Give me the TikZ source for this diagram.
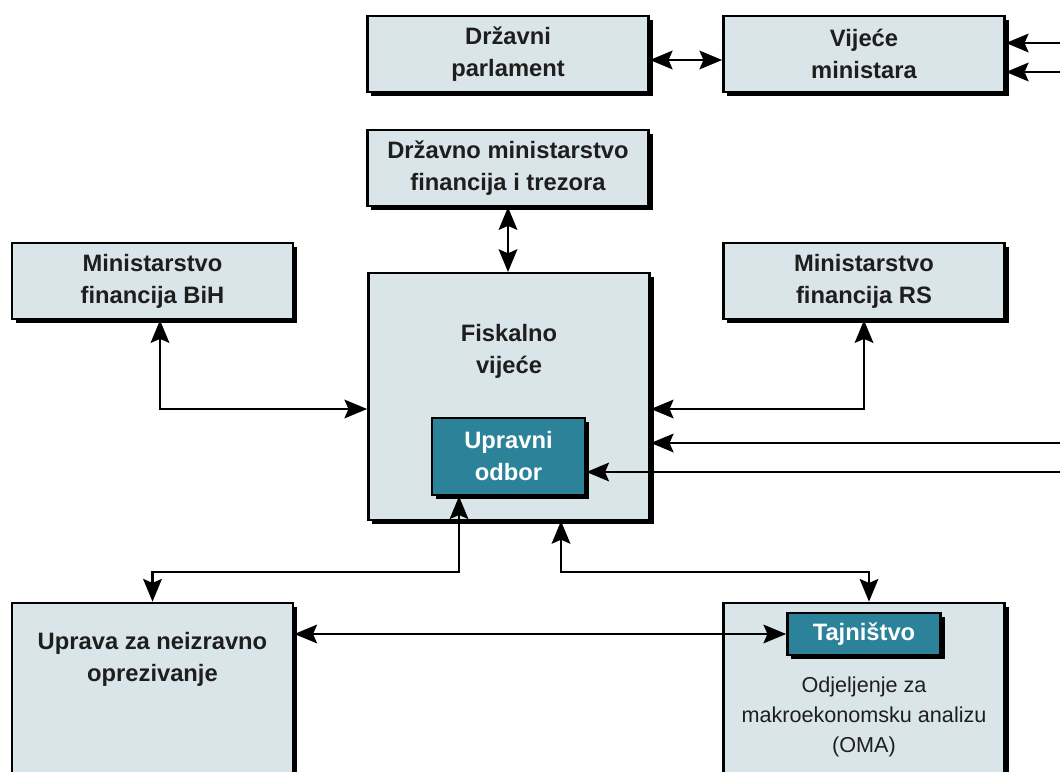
\documentclass[tikz,border=0pt]{standalone}
\usepackage{fontspec}
\setmainfont{Liberation Sans}
\usetikzlibrary{positioning, arrows.meta, calc, shadows}

\definecolor{panel}{HTML}{DAE5E9}
\definecolor{boardteal}{HTML}{2B8299}
\definecolor{ink}{HTML}{1E1E1E}

\tikzset{
    tip/.tip = {Stealth[length=17pt, width=14pt, inset=3pt]},
}

\begin{document}
\begin{tikzpicture}[
    x=0.75pt, y=-0.75pt,
    % ── node styles ─────────────────────────────────────────
    box/.style = { draw=black, line width=1.8pt, fill=panel, text=ink,
            align=center, inner sep=0pt, minimum width=211pt, minimum height=57pt,
            font=\fontsize{17.8}{24}\selectfont\bfseries,
            drop shadow={shadow xshift=3pt, shadow yshift=-3pt, opacity=1, fill=black}, },
    inner/.style = { box, fill=boardteal, text=white, },
    title/.style = { align=center, text=ink, inner sep=0pt,
            font=\fontsize{17.8}{24}\selectfont\bfseries, },
    plain/.style = { align=center, text=ink, inner sep=0pt,
            font=\fontsize{16.2}{22.5}\selectfont, },
    link/.style = {tip-tip, line width=1.7pt},
    feed/.style = {-tip, line width=1.7pt},
    ]

    \useasboundingbox (0,0) rectangle (1060,771);
    \clip (0,0) rectangle (1060,771);

    % ============================================================
    % TOP — parliament and council of ministers
    % ============================================================
    \node[box] (parl) at (508,54) {Državni\\parlament};
    \node[box] (vijece) at (864,54) {Vijeće\\ministara};
    \node[box] (drzmin) at (508,168) {Državno ministarstvo\\financija i trezora};

    % ============================================================
    % MIDDLE — ministries and fiscal council
    % ============================================================
    \node[box] (bih) at (152.5,281) {Ministarstvo\\financija BiH};
    \node[box] (rs) at (864,281) {Ministarstvo\\financija RS};

    \node[box, minimum height=185pt] (fisk) at (509,396.5) {};
    \node[title] (fisk-title) at (509,351) {Fiskalno\\vijeće};
    \node[inner, minimum width=115pt, minimum height=58pt]
    (upr) at (508.5,456.5) {Upravni\\odbor};

    % ============================================================
    % BOTTOM — indirect taxation and secretariat
    % ============================================================
    \node[box, minimum height=163pt] (uprava) at (152.5,711.5) {};
    \node[title] (uprava-title) at (152.5,659) {Uprava za neizravno\\oprezivanje};

    \node[box, minimum height=163pt] (oma) at (864,711.5) {};
    \node[inner, minimum width=115pt, minimum height=31.5pt]
    (taj) at (864,634) {Tajništvo};
    \node[plain] (oma-text) at (864,717)
    {Odjeljenje za\\makroekonomsku analizu\\(OMA)};

    % ============================================================
    % INCOMING FROM THE RIGHT
    % ============================================================
    \coordinate (ext-vm1) at (1064,43);
    \coordinate (ext-vm2) at (1064,72);
    \coordinate (ext-fisk) at (1064,443);
    \coordinate (ext-upr) at (1064,472);

    \draw[feed] (ext-vm1) -- (ext-vm1 -| vijece.east);
    \draw[feed] (ext-vm2) -- (ext-vm2 -| vijece.east);
    \draw[feed] (ext-fisk) -- (ext-fisk -| fisk.east);
    \draw[feed] (ext-upr) -- (ext-upr -| upr.east);

    % ============================================================
    % TWO-WAY LINKS
    % ============================================================
    \coordinate (row-top) at (0,60);
    \coordinate (row-mid) at (0,409);
    \coordinate (bus-l) at (459,572);
    \coordinate (bus-r) at (561,572);

    \draw[link] (parl.east |- row-top) -- (vijece.west |- row-top);
    \draw[link] (drzmin.south) -- (drzmin.south |- fisk.north);
    \draw[link] ($(bih.south)+(7.5,0)$) |- (fisk.west |- row-mid);
    \draw[link] (fisk.east |- row-mid) -| (rs.south);
    \draw[link] (uprava.north) |- (bus-l) -- (bus-l |- upr.south);
    \draw[link] (bus-r |- fisk.south) -- (bus-r) -| ($(oma.north)+(5,0)$);
    \draw[link] (uprava.east |- taj.west) -- (taj.west);

\end{tikzpicture}
\end{document}
